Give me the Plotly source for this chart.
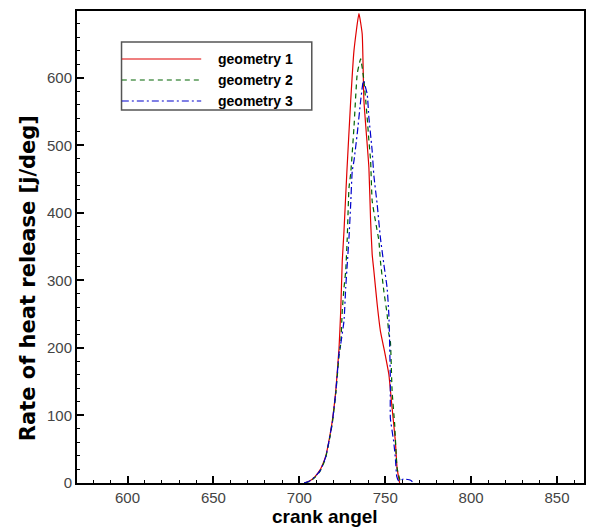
import plotly.graph_objects as go

# ---- data ----
g1_x = [702.8, 706.0, 709.0, 712.0, 714.0, 715.4, 717.2, 719.2, 721.2, 723.1, 724.1, 725.0, 726.0,
        727.7, 729.9, 731.8, 734.7, 736.6, 737.6, 740.5, 741.5, 742.4, 743.4, 745.3, 747.2, 749.2,
        752.1, 754.0, 755.9, 756.9, 758.4]
g1_y = [0, 3, 9, 19, 30, 40, 62, 92, 136, 199, 255, 329, 373,
        462, 566, 640, 695, 665, 566, 467, 388, 339, 314, 265, 225, 200,
        161, 111, 62, 22, 0]

g2_x = [702.8, 706.0, 709.0, 712.0, 714.0, 715.4, 717.2, 719.2, 721.2, 723.1, 724.1, 725.0, 726.0,
        727.0, 727.9, 728.9, 729.9, 731.8, 733.7, 735.7, 737.6, 739.5, 740.5, 741.5, 742.4, 744.3,
        746.3, 747.2, 749.2, 751.1, 752.1, 753.0, 754.0, 755.5, 756.9, 759.0]
g2_y = [0, 2, 8, 17, 28, 38, 60, 88, 132, 188, 206, 255, 289,
        314, 363, 437, 458, 526, 606, 628, 596, 541, 507, 477, 418, 388,
        359, 329, 284, 250, 221, 210, 136, 87, 22, 0]

g3_x = [702.8, 706.0, 709.0, 712.0, 714.0, 715.4, 717.2, 719.2, 721.2, 723.1, 724.1, 726.0, 727.0,
        727.9, 728.9, 729.9, 730.8, 731.8, 733.7, 735.7, 737.3, 739.5, 740.5, 742.4, 743.4, 745.3,
        747.2, 749.2, 751.1, 752.1, 752.5, 753.0, 753.0, 754.9, 755.9, 756.7, 757.9, 760.7, 764.8,
        766.6]
g3_y = [0, 3, 9, 18, 29, 39, 61, 90, 134, 192, 206, 240, 289,
        324, 363, 413, 462, 477, 517, 566, 596, 576, 541, 492, 455, 413,
        363, 324, 289, 250, 215, 151, 96, 62, 37, 10, 3, 6, 4,
        0]

names = ["geometry 1", "geometry 2", "geometry 3"]
x_ticks = [600, 650, 700, 750, 800, 850]
y_ticks = [0, 100, 200, 300, 400, 500, 600]
x_title = "crank angel"
y_title = "Rate of heat release [j/deg]"

colors = ["#e00000", "#006400", "#0000cc"]
dashes = ["solid", "5px,4px", "7px,3px,2px,3px"]

fig = go.Figure()
for xs, ys, c, d, n in zip([g1_x, g2_x, g3_x], [g1_y, g2_y, g3_y], colors, dashes, names):
    fig.add_trace(go.Scatter(x=xs, y=ys, mode="lines", name=n,
                             line=dict(color=c, width=1.2, dash=d, shape="spline", smoothing=0.4),
                             showlegend=False))

FONT = "Liberation Sans, Arial, sans-serif"
axis_common = dict(showline=True, linewidth=2, linecolor="black", mirror=True,
                   showgrid=False, zeroline=False, ticks="inside", ticklen=7,
                   tickwidth=2, tickcolor="black",
                   tickfont=dict(family=FONT, size=15, color="#444"))

fig.update_xaxes(range=[570.6, 865.7], tickvals=x_ticks,
                 minor=dict(dtick=10, ticks="inside", ticklen=3, tickwidth=1, tickcolor="black"),
                 **axis_common)
fig.update_yaxes(range=[0, 699], tickvals=y_ticks,
                 minor=dict(dtick=20, ticks="inside", ticklen=3, tickwidth=1, tickcolor="black"),
                 **axis_common)

# manual legend (box, samples, labels) and axis titles placed in paper coords
W, H = 509.0, 472.0
def px(xp): return (xp - 77) / W
def py(yp): return (483 - yp) / H

shapes = [dict(type="rect", xref="paper", yref="paper", x0=px(121.7), x1=px(312.7),
               y0=py(110), y1=py(42), line=dict(color="#555", width=1.5), fillcolor="white")]
rows = [59, 80, 101]
annotations = []
for r, c, d, n in zip(rows, colors, dashes, names):
    shapes.append(dict(type="line", xref="paper", yref="paper", x0=px(122), x1=px(201.7),
                       y0=py(r), y1=py(r), line=dict(color=c, width=1.2, dash=d)))
    annotations.append(dict(text=n, xref="paper", yref="paper", x=px(216.7), y=py(r),
                            xanchor="left", yanchor="middle", showarrow=False,
                            font=dict(family=FONT, size=14, color="black", weight="bold")))

annotations.append(dict(text=x_title, xref="paper", yref="paper", x=px(326), y=py(516),
                        xanchor="center", yanchor="middle", showarrow=False,
                        font=dict(family=FONT, size=19, color="black", weight="bold")))
annotations.append(dict(text=y_title, xref="paper", yref="paper", x=px(28), y=py(278),
                        xanchor="center", yanchor="middle", showarrow=False, textangle=-90,
                        font=dict(family="DejaVu Sans, sans-serif", size=21, color="black",
                                  weight="bold")))

fig.update_layout(width=593, height=528, margin=dict(l=77, r=7, t=11, b=45),
                  plot_bgcolor="white", paper_bgcolor="white",
                  shapes=shapes, annotations=annotations)

fig.write_html("out.html")
